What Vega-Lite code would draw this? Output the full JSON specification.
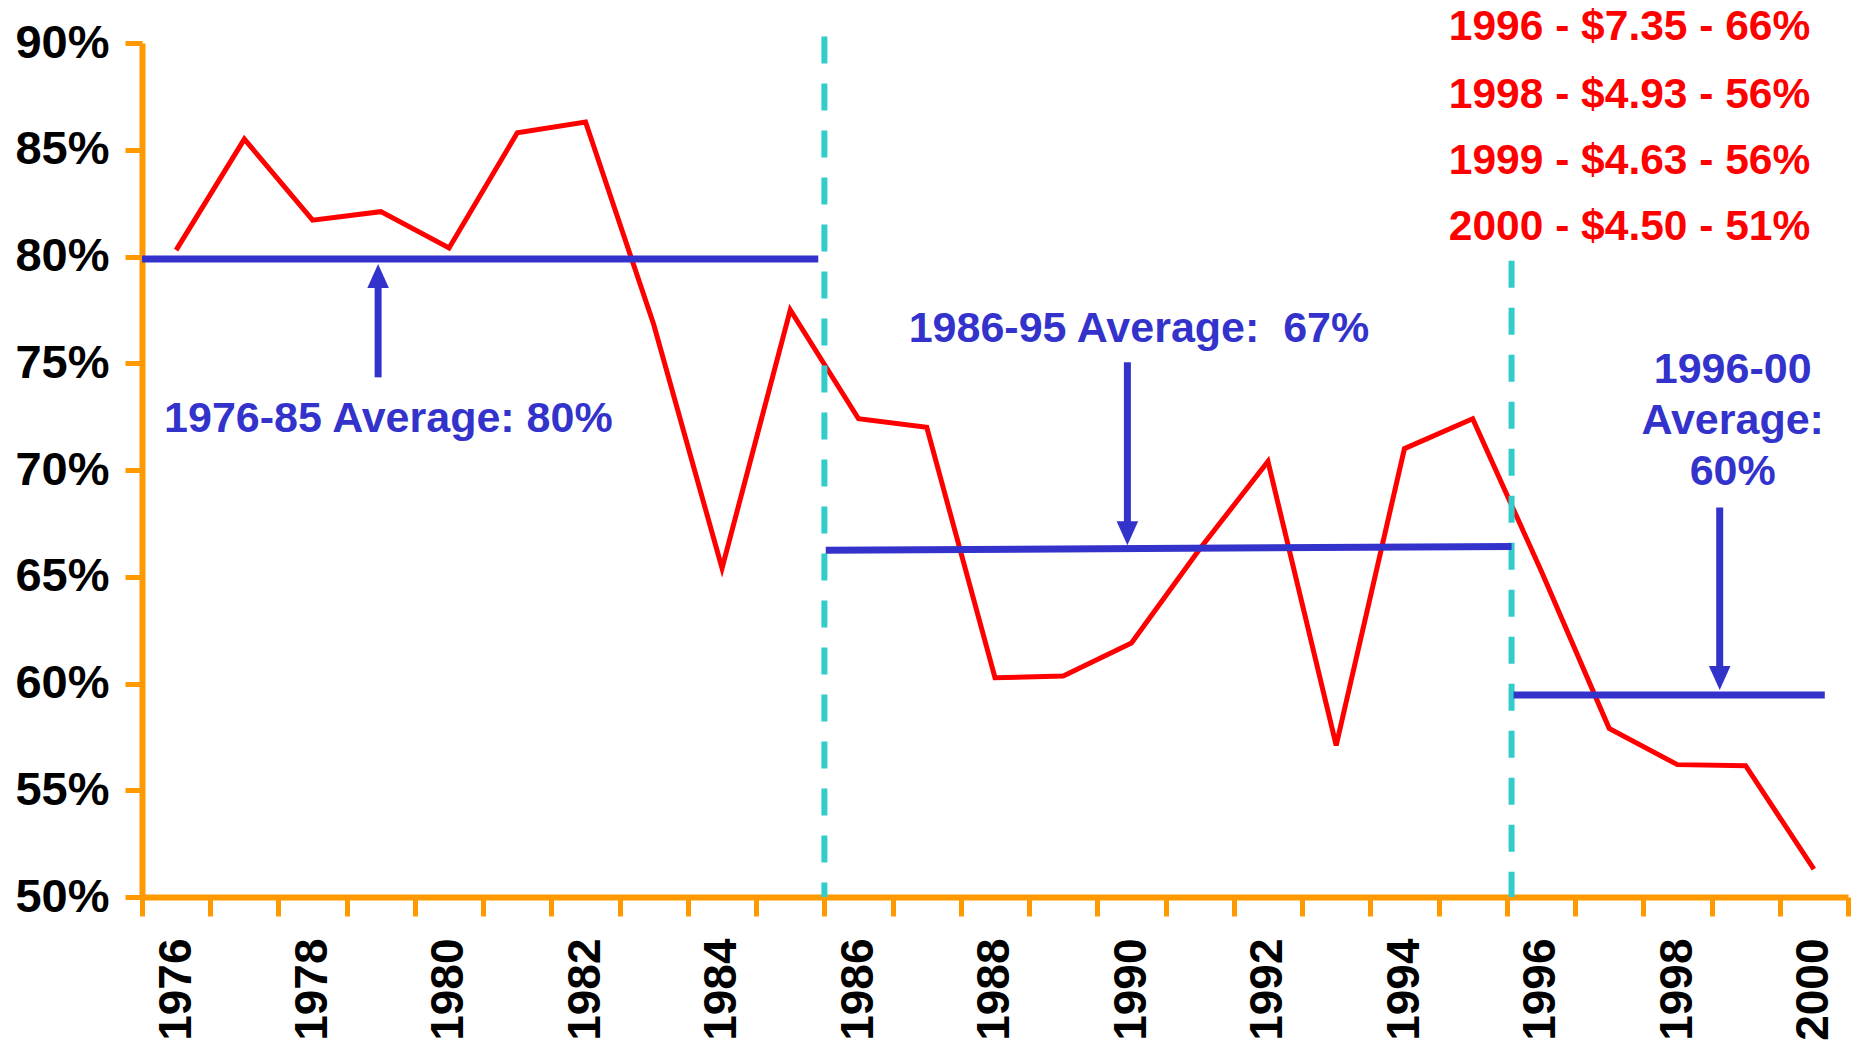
{
  "$schema": "https://vega.github.io/schema/vega-lite/v6.json",
  "width": 1706,
  "height": 854,
  "autosize": {"type": "none"},
  "padding": {"left": 142, "top": 43, "right": 12, "bottom": 144},
  "background": "white",
  "config": {"view": {"stroke": null}, "axis": {"grid": false}},
  "datasets": {
    "series": [
      {"year": 1976, "share": 80.3}, {"year": 1977, "share": 85.5}, {"year": 1978, "share": 81.7},
      {"year": 1979, "share": 82.1}, {"year": 1980, "share": 80.4}, {"year": 1981, "share": 85.8},
      {"year": 1982, "share": 86.3}, {"year": 1983, "share": 76.8}, {"year": 1984, "share": 65.4},
      {"year": 1985, "share": 77.5}, {"year": 1986, "share": 72.4}, {"year": 1987, "share": 72.0},
      {"year": 1988, "share": 60.27}, {"year": 1989, "share": 60.35}, {"year": 1990, "share": 61.9},
      {"year": 1991, "share": 66.3}, {"year": 1992, "share": 70.4}, {"year": 1993, "share": 57.1},
      {"year": 1994, "share": 71.0}, {"year": 1995, "share": 72.4}, {"year": 1996, "share": 65.3},
      {"year": 1997, "share": 57.9}, {"year": 1998, "share": 56.2}, {"year": 1999, "share": 56.15},
      {"year": 2000, "share": 51.3}
    ],
    "dividers": [
      {"year": 1985.5, "top": 90.3, "bottom": 50},
      {"year": 1995.57, "top": 79.8, "bottom": 50}
    ],
    "averages": [
      {"start": 1975.5, "end": 1985.41, "left": 79.88, "right": 79.88},
      {"start": 1985.52, "end": 1995.57, "left": 66.24, "right": 66.42},
      {"start": 1995.6, "end": 2000.16, "left": 59.46, "right": 59.46}
    ],
    "shafts": [
      {"year": 1978.96, "from": 74.34, "to": 78.6},
      {"year": 1989.94, "from": 75.05, "to": 67.5},
      {"year": 1998.62, "from": 68.24, "to": 60.8}
    ],
    "heads": [
      {"year": 1978.96, "tip": 79.65, "dir": "up"},
      {"year": 1989.94, "tip": 66.48, "dir": "down"},
      {"year": 1998.62, "tip": 59.7, "dir": "down"}
    ],
    "bluetext": [
      {"year": 1979.11, "pos": 71.77, "label": "1976-85 Average: 80%"},
      {"year": 1990.11, "pos": 75.99, "label": "1986-95 Average:\u00a0 67%"},
      {"year": 1998.81, "pos": 74.07, "label": "1996-00"},
      {"year": 1998.81, "pos": 71.68, "label": "Average:"},
      {"year": 1998.81, "pos": 69.29, "label": "60%"}
    ],
    "redtext": [
      {"year": 1994.65, "pos": 90.14, "label": "1996 - $7.35 - 66%"},
      {"year": 1994.65, "pos": 86.95, "label": "1998 - $4.93 - 56%"},
      {"year": 1994.65, "pos": 83.86, "label": "1999 - $4.63 - 56%"},
      {"year": 1994.65, "pos": 80.77, "label": "2000 - $4.50 - 51%"}
    ]
  },
  "layer": [
    {
      "data": {"name": "series"},
      "mark": {"type": "line", "color": "#FF0000", "strokeWidth": 5, "strokeJoin": "miter"},
      "encoding": {
        "x": {
          "field": "year", "type": "quantitative",
          "scale": {"domain": [1975.5, 2000.5], "nice": false, "zero": false},
          "axis": {
            "title": null,
            "values": [1975.5, 1976.5, 1977.5, 1978.5, 1979.5, 1980.5, 1981.5, 1982.5, 1983.5, 1984.5, 1985.5, 1986.5, 1987.5, 1988.5, 1989.5, 1990.5, 1991.5, 1992.5, 1993.5, 1994.5, 1995.5, 1996.5, 1997.5, 1998.5, 1999.5, 2000.5],
            "labelExpr": "(datum.value + 0.5) % 2 == 0 ? toString(datum.value + 0.5) : ''",
            "labelAngle": 270,
            "labelAlign": "right",
            "labelBaseline": "middle",
            "labelOffset": 34,
            "labelPadding": 22,
            "labelFont": "Liberation Sans",
            "labelFontWeight": "bold",
            "labelFontSize": 46,
            "labelColor": "#000000",
            "labelFlush": false,
            "labelOverlap": false,
            "labelBound": false,
            "domainColor": "#FF9900",
            "domainWidth": 6,
            "tickColor": "#FF9900",
            "tickWidth": 5,
            "tickSize": 19
          }
        },
        "y": {
          "field": "share", "type": "quantitative",
          "scale": {"domain": [50, 90], "nice": false, "zero": false},
          "axis": {
            "title": null,
            "values": [50, 55, 60, 65, 70, 75, 80, 85, 90],
            "labelExpr": "datum.value + '%'",
            "labelFont": "Liberation Sans",
            "labelFontWeight": "bold",
            "labelFontSize": 47,
            "labelColor": "#000000",
            "labelPadding": 16,
            "labelFlush": false,
            "labelOverlap": false,
            "domainColor": "#FF9900",
            "domainWidth": 6,
            "tickColor": "#FF9900",
            "tickWidth": 5,
            "tickSize": 17
          }
        }
      }
    },
    {
      "data": {"name": "dividers"},
      "mark": {"type": "rule", "color": "#33CCCC", "strokeWidth": 6, "strokeDash": [27, 20]},
      "encoding": {
        "x": {"field": "year", "type": "quantitative", "title": null},
        "y": {"field": "top", "type": "quantitative", "title": null},
        "y2": {"field": "bottom"}
      }
    },
    {
      "data": {"name": "averages"},
      "mark": {"type": "rule", "color": "#3333CC", "strokeWidth": 7},
      "encoding": {
        "x": {"field": "start", "type": "quantitative", "title": null},
        "x2": {"field": "end"},
        "y": {"field": "left", "type": "quantitative", "title": null},
        "y2": {"field": "right"}
      }
    },
    {
      "data": {"name": "shafts"},
      "mark": {"type": "rule", "color": "#3333CC", "strokeWidth": 7},
      "encoding": {
        "x": {"field": "year", "type": "quantitative", "title": null},
        "y": {"field": "from", "type": "quantitative", "title": null},
        "y2": {"field": "to"}
      }
    },
    {
      "data": {"name": "heads"},
      "mark": {"type": "point", "filled": true, "color": "#3333CC", "opacity": 1, "size": 576, "strokeWidth": 0},
      "encoding": {
        "x": {"field": "year", "type": "quantitative", "title": null},
        "y": {"field": "tip", "type": "quantitative", "title": null},
        "shape": {
          "field": "dir", "type": "nominal", "legend": null,
          "scale": {"domain": ["up", "down"], "range": ["M-0.9,2L0.9,2L0,0Z", "M-0.9,-2L0.9,-2L0,0Z"]}
        }
      }
    },
    {
      "data": {"name": "bluetext"},
      "mark": {"type": "text", "color": "#3333CC", "font": "Liberation Sans", "fontWeight": "bold", "fontSize": 43, "align": "center", "baseline": "alphabetic"},
      "encoding": {
        "x": {"field": "year", "type": "quantitative", "title": null},
        "y": {"field": "pos", "type": "quantitative", "title": null},
        "text": {"field": "label"}
      }
    },
    {
      "data": {"name": "redtext"},
      "mark": {"type": "text", "color": "#FF0000", "font": "Liberation Sans", "fontWeight": "bold", "fontSize": 42.5, "align": "left", "baseline": "alphabetic"},
      "encoding": {
        "x": {"field": "year", "type": "quantitative", "title": null},
        "y": {"field": "pos", "type": "quantitative", "title": null},
        "text": {"field": "label"}
      }
    }
  ]
}
